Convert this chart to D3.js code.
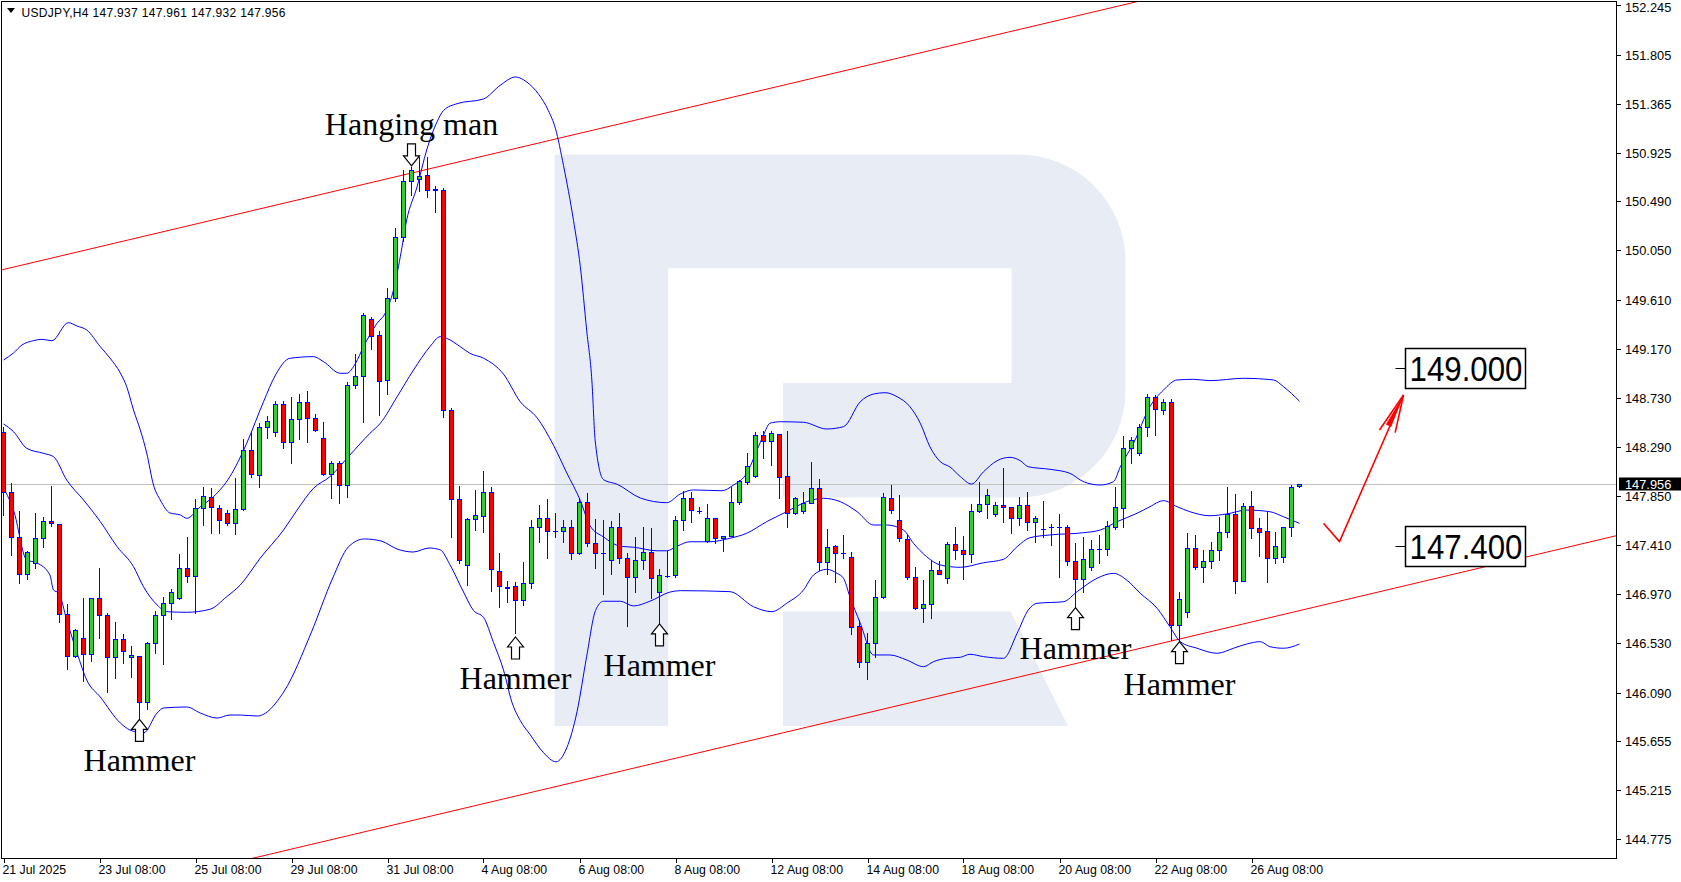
<!DOCTYPE html>
<html><head><meta charset="utf-8">
<script src="https://cdn.jsdelivr.net/npm/d3@7"></script>
<style>
html,body{margin:0;padding:0;background:#fff;}
svg{display:block;}
</style></head>
<body>
<svg id="chart" width="1681" height="882"></svg>
<script>
// ---------------- DATA ----------------
const symbolTitle = "USDJPY,H4";
const lastOHLC = ["147.937","147.961","147.932","147.956"];

const opens = [148.427,147.884,147.481,147.150,147.248,147.472,147.627,147.597,146.794,146.415,
146.576,146.436,146.935,146.782,146.406,146.567,146.406,146.415,146.008,146.531,
146.782,146.890,146.935,147.203,147.132,147.741,147.839,147.741,147.696,147.606,
147.732,148.263,148.036,148.472,148.422,148.672,148.332,148.538,148.690,148.547,
148.373,148.045,148.144,147.947,148.842,148.926,149.436,149.290,148.887,149.622,
150.173,150.670,150.690,150.723,150.600,150.589,148.621,147.820,147.237,147.648,
147.676,147.889,147.183,147.031,147.044,146.920,147.072,147.573,147.656,147.537,
147.537,147.573,147.340,147.800,147.433,147.340,147.278,147.573,147.298,147.125,
147.278,147.352,146.991,147.134,147.147,147.636,147.830,147.720,147.450,147.651,
147.472,147.493,147.794,147.976,148.027,148.394,148.341,148.404,148.027,147.696,
147.714,147.791,147.920,147.257,147.403,147.343,147.307,146.684,146.367,146.537,
146.944,147.833,147.639,147.463,147.123,146.845,146.881,147.185,147.114,147.421,
147.367,147.329,147.714,147.776,147.687,147.768,147.750,147.651,147.768,147.615,
147.558,147.570,147.570,147.570,147.266,147.105,147.212,147.373,147.373,147.570,
147.741,148.278,148.233,148.466,148.734,148.618,148.690,146.695,146.815,147.382,
147.218,147.271,147.364,147.526,147.687,147.092,147.759,147.562,147.535,147.293,
147.302,147.570,147.937];
const highs = [148.469,147.967,147.716,147.358,147.699,147.663,147.940,147.600,146.883,146.660,
146.937,146.937,147.209,146.800,146.722,146.612,146.507,146.418,146.540,146.821,
146.949,147.015,147.331,147.481,147.821,147.929,147.920,147.770,147.725,148.009,
148.359,148.433,148.502,148.567,148.702,148.702,148.741,148.761,148.791,148.583,
148.516,148.164,148.164,148.872,149.120,149.487,149.451,149.329,149.711,150.249,
150.771,150.800,150.885,150.890,150.627,150.612,148.637,147.943,147.654,147.902,
148.078,147.935,147.340,147.093,147.081,147.257,147.636,147.770,147.824,147.699,
147.636,147.636,147.833,147.881,147.648,147.636,147.627,147.699,147.340,147.484,
147.573,147.564,147.197,147.358,147.668,147.896,147.889,147.750,147.779,147.655,
147.493,147.934,147.990,148.233,148.424,148.430,148.430,148.410,148.430,147.845,
147.887,148.155,148.003,147.553,147.409,147.502,147.352,146.740,146.621,147.098,
147.875,147.949,147.860,147.502,147.218,147.098,147.269,147.272,147.436,147.576,
147.495,147.776,147.974,147.914,147.797,148.099,147.756,147.839,147.887,147.674,
147.806,147.600,147.687,147.588,147.430,147.486,147.454,147.502,147.624,147.929,
148.391,148.383,148.493,148.761,148.752,148.717,148.717,146.994,147.517,147.502,
147.367,147.436,147.665,147.934,147.869,147.791,147.896,147.651,147.710,147.526,
147.571,147.949,147.961];
const lows = [147.681,147.322,147.069,147.105,147.203,147.397,147.585,146.725,146.299,146.409,
146.191,146.376,146.582,146.098,146.223,146.358,146.232,145.862,145.946,146.442,
146.343,146.746,146.930,147.083,146.800,147.588,147.517,147.517,147.588,147.508,
147.725,148.018,147.929,148.373,148.392,148.278,148.144,148.361,148.337,148.433,
148.040,147.830,147.791,147.845,148.815,148.511,149.164,148.574,148.762,149.600,
150.138,150.547,150.580,150.531,150.397,148.556,147.484,147.251,147.054,147.546,
147.524,147.003,146.858,146.901,146.620,146.875,147.031,147.442,147.298,147.484,
147.442,147.287,147.331,147.403,147.206,146.969,147.154,147.251,146.682,146.991,
147.197,146.941,146.713,147.125,147.122,147.546,147.621,147.700,147.441,147.427,
147.356,147.490,147.779,147.958,148.024,148.194,148.128,147.830,147.570,147.690,
147.696,147.785,147.188,147.152,147.078,147.293,146.615,146.322,146.209,146.411,
146.940,147.701,147.450,147.108,146.840,146.725,146.755,147.150,147.069,147.287,
147.105,147.262,147.710,147.651,147.674,147.615,147.517,147.591,147.546,147.436,
147.486,147.412,147.128,147.230,146.859,146.994,147.188,147.248,147.322,147.553,
147.570,148.144,148.218,148.391,148.395,148.582,146.561,146.561,146.770,147.197,
147.083,147.209,147.278,147.486,146.979,147.090,147.477,147.316,147.083,147.253,
147.262,147.495,147.932];
const closes = [147.884,147.481,147.150,147.353,147.472,147.627,147.606,146.794,146.415,146.648,
146.436,146.935,146.782,146.406,146.567,146.463,146.424,146.008,146.534,146.785,
146.890,146.988,147.203,147.132,147.741,147.848,147.750,147.633,147.606,147.732,
148.263,148.045,148.472,148.522,148.672,148.332,148.538,148.690,148.547,148.442,
148.045,148.144,147.947,148.842,148.926,149.469,149.286,148.878,149.622,150.173,
150.670,150.768,150.714,150.591,150.594,148.621,147.820,147.278,147.648,147.684,
147.889,147.195,147.044,147.035,146.920,147.072,147.573,147.656,147.537,147.535,
147.573,147.340,147.800,147.433,147.340,147.338,147.573,147.298,147.125,147.278,
147.352,147.113,147.147,147.130,147.636,147.833,147.725,147.720,147.651,147.472,
147.493,147.794,147.985,148.117,148.394,148.341,148.415,148.018,147.696,147.830,
147.791,147.920,147.257,147.391,147.338,147.341,146.675,146.367,146.537,146.944,
147.839,147.725,147.472,147.123,146.845,146.881,147.185,147.152,147.421,147.367,
147.329,147.714,147.776,147.857,147.768,147.750,147.651,147.768,147.615,147.651,
147.558,147.570,147.570,147.266,147.105,147.284,147.373,147.373,147.579,147.750,
148.278,148.349,148.466,148.734,148.627,148.690,146.695,146.926,147.382,147.218,
147.271,147.364,147.526,147.687,147.092,147.759,147.562,147.526,147.293,147.400,
147.570,147.929,147.956];

// Bollinger bands: [bar index, price]
const upperBand = [[0,149.069],[1.25,149.132],[2.3,149.203],[3.75,149.242],[4.8,149.254],[6.05,149.242],[8.1,149.403],[9.2,149.373],[10.4,149.338],[12.1,149.188],[13.3,149.087],[14.6,148.953],[15.4,148.830],[16.25,148.621],[17.1,148.442],[17.9,148.236],[18.75,147.949],[19.6,147.815],[20.8,147.699],[22.1,147.681],[22.9,147.651],[24.6,147.755],[26.25,147.845],[28.3,148.024],[30.4,148.323],[32.5,148.695],[34,148.935],[35.8,149.084],[38.75,149.099],[40,149.054],[42.1,148.950],[42.9,148.950],[44,149.039],[45,149.188],[46.7,149.398],[47.7,149.487],[48.75,149.696],[49.6,149.994],[50.4,150.323],[51.7,150.621],[52.9,150.950],[54.2,151.203],[55,151.304],[56.7,151.365],[60,151.407],[62.1,151.530],[64,151.604],[65.4,151.559],[66.9,151.448],[68.1,151.304],[69,151.140],[70,150.811],[71.25,150.318],[72.1,149.907],[72.9,149.332],[73.55,148.881],[73.96,148.346],[75,147.997],[76.7,147.956],[79.6,147.833],[82.9,147.791],[84.6,147.869],[86.25,147.905],[89.8,147.898],[91.25,147.949],[92.9,148.054],[94.2,148.263],[95,148.397],[95.8,148.502],[97.1,148.516],[100,148.511],[102.9,148.451],[105,148.472],[107.1,148.695],[108.75,148.764],[110.2,148.776],[111.7,148.740],[113.3,148.651],[114.6,148.502],[115.8,148.292],[117.1,148.158],[118.3,148.111],[119.6,148.025],[121,147.958],[122.5,148.068],[124.2,148.167],[125.8,148.197],[127.1,148.167],[128.1,148.113],[130.8,148.090],[133.3,148.054],[135,147.979],[137.1,147.949],[138.75,147.979],[139.6,148.113],[141.25,148.323],[143.3,148.651],[145,148.800],[146.7,148.890],[148.75,148.896],[150.8,148.884],[155,148.905],[158.75,148.890],[160,148.830],[162,148.700]];
const middleBand = [[0,148.496],[1.25,148.427],[2.9,148.278],[5,148.233],[6.25,148.203],[7.9,147.994],[10,147.815],[12.1,147.621],[14.2,147.397],[16.25,147.218],[17.5,147.038],[19.2,146.875],[20.4,146.815],[22.9,146.809],[25.8,146.836],[27.9,146.949],[29.6,147.054],[32.1,147.295],[35,147.546],[36.7,147.725],[38.75,147.920],[40.8,148.024],[43.3,148.218],[45.8,148.412],[47.1,148.502],[49.2,148.740],[51.25,148.979],[53.3,149.188],[54.6,149.278],[55.4,149.263],[57.1,149.188],[58.3,149.129],[60,149.085],[62.5,148.942],[64.6,148.695],[66.7,148.551],[68.75,148.305],[70.4,148.059],[72.1,147.811],[73.3,147.586],[75,147.484],[77.1,147.401],[78.75,147.392],[81.7,147.360],[82.9,147.360],[84.2,147.401],[85.8,147.441],[88.3,147.441],[90.8,147.472],[92.9,147.517],[95.4,147.621],[97.9,147.710],[100.4,147.800],[102.5,147.830],[104.6,147.800],[106.7,147.710],[108.75,147.591],[110.4,147.591],[112.5,147.546],[113.75,147.427],[115.4,147.307],[117.1,147.233],[119.6,147.212],[122.5,147.253],[125,147.284],[126.7,147.397],[128.3,147.477],[130.8,147.502],[135,147.522],[137.1,147.546],[139.2,147.621],[141.7,147.696],[143.3,147.755],[145,147.809],[146.7,147.755],[148.3,147.710],[150.8,147.674],[152.9,147.690],[155.4,147.725],[158.3,147.710],[160,147.665],[162,147.606]];
const lowerBand = [[0,147.922],[1.25,147.725],[2.9,147.278],[4.2,147.251],[5.8,147.143],[6.25,147.009],[6.9,146.982],[7.9,146.740],[9.2,146.445],[10.4,146.203],[12.1,146.050],[14.6,145.818],[15.8,145.755],[17.5,145.728],[19.2,145.907],[20,145.952],[22.9,145.961],[24.6,145.907],[26.7,145.862],[28.3,145.889],[29.6,145.889],[31.7,145.880],[35.1,146.104],[38.5,146.633],[41.1,147.107],[43.1,147.394],[45.1,147.466],[47.2,147.448],[49.2,147.376],[51.2,147.349],[53.2,147.385],[54.6,147.368],[55.8,147.236],[57.5,146.991],[58.75,146.825],[60,146.764],[61.25,146.538],[62.5,146.292],[63.55,146.004],[64.6,145.839],[65.8,145.716],[67.5,145.552],[69.05,145.470],[70.4,145.594],[71.7,145.922],[72.9,146.415],[74,146.825],[75,146.908],[77.1,146.908],[78.75,146.866],[80.8,146.908],[83.3,146.990],[84.6,147.003],[90.8,146.994],[93.75,146.859],[96.05,146.815],[97.9,146.890],[100,147.009],[101.25,147.143],[102.9,147.194],[104.2,147.158],[105,147.114],[105.8,146.949],[107.1,146.711],[108.75,146.427],[110.8,146.427],[112.9,146.382],[115,146.322],[116.25,146.367],[117.9,146.397],[119.6,146.406],[120.8,146.433],[122.5,146.412],[125,146.397],[126.7,146.621],[128.1,146.830],[129.2,146.890],[132.5,146.904],[134.2,146.994],[136.7,147.114],[138.75,147.158],[140.4,147.098],[142.1,146.979],[144.2,146.845],[145.8,146.680],[147.1,146.546],[149.2,146.487],[151.7,146.442],[153.75,146.487],[155.4,146.525],[157.1,146.546],[158.3,146.501],[160,146.487],[162,146.525]];

const priceTicks = [152.245,151.805,151.365,150.925,150.490,150.050,149.610,149.170,148.730,148.290,147.850,147.410,146.970,146.530,146.090,145.655,145.215,144.775];
const priceTickLabels = ["152.245","151.805","151.365","150.925","150.490","150.050","149.610","149.170","148.730","148.290","147.850","147.410","146.970","146.530","146.090","145.655","145.215","144.775"];
const timeLabelBars = [0,12,24,36,48,60,72,84,96,108,120,132,144,156];
const timeLabels = ["21 Jul 2025","23 Jul 08:00","25 Jul 08:00","29 Jul 08:00","31 Jul 08:00","4 Aug 08:00","6 Aug 08:00","8 Aug 08:00","12 Aug 08:00","14 Aug 08:00","18 Aug 08:00","20 Aug 08:00","22 Aug 08:00","26 Aug 08:00"];

const currentPrice = 147.956;

// Channel lines: two anchor points each [bar, price]
const channelTop = [[0,149.880],[140,152.250]];
const channelBottom = [[100,145.773],[160,146.790]];

// Pattern annotations
const patternNames = ["Hanging man","Hammer","Hammer","Hammer","Hammer","Hammer"];
const patternBars = [51,17,64,82,134,147];
const patternTextPrice = [151.084,145.391,146.122,146.239,146.391,146.069];
const patternArrowPrice = [150.807,145.851,146.588,146.705,146.850,146.546];
const patternArrowDir = ["down","up","up","up","up","up"];

// Forecast arrow [bar, price]
const forecastPath = [[165,147.606],[167,147.442],[175,148.755]];
const forecastHead = [[172,148.442],[173.96,148.418]];

// Target labels
const targetPrices = [149.000,147.400];
const targetTexts = ["149.000","147.400"];
const targetBar = 174;

// ---------------- CHART ----------------
const svg = d3.select("#chart");
const W = 1681, H = 882;
const plotL = 2, plotT = 2, plotR = 1616, plotB = 858;

const x = d3.scaleLinear().domain([0, 200]).range([3.5, 1603.5]);
const y = d3.scaleLinear().domain([144.775, 152.245]).range([839.4, 5.4]);

svg.append("rect").attr("width", W).attr("height", H).attr("fill", "#fff");

svg.append("defs").append("clipPath").attr("id","plotclip")
  .append("rect").attr("x", plotL).attr("y", plotT).attr("width", plotR-plotL).attr("height", plotB-plotT);

const plot = svg.append("g").attr("clip-path","url(#plotclip)");

// watermark logo
const wm = plot.append("g").attr("fill","#e8edf5");
wm.append("path").attr("d",
 "M554.5,154.5 H1018 A107,107 0 0 1 1125.5,261.5 V390.6 A107,107 0 0 1 1018.5,497.6 H783 V383 H1011.5 V268.3 H668.2 V726 H554.5 Z");
wm.append("path").attr("d","M783,611.4 H1010.7 L1068,726 H783 Z");

// current price line
plot.append("line")
  .attr("x1", plotL).attr("x2", plotR)
  .attr("y1", Math.round(y(currentPrice))+0.5).attr("y2", Math.round(y(currentPrice))+0.5)
  .attr("stroke","#c0c0c0").attr("stroke-width",1);

// channel lines (extended rays)
function extLine(pts){
  const [a,b] = pts;
  const s = (b[1]-a[1])/(b[0]-a[0]);
  const i0 = -5, i1 = 215;
  return [[i0, a[1]+s*(i0-a[0])],[i1, a[1]+s*(i1-a[0])]];
}
[channelTop, channelBottom].forEach(p => {
  const e = extLine(p);
  plot.append("line")
    .attr("x1", x(e[0][0])).attr("y1", y(e[0][1]))
    .attr("x2", x(e[1][0])).attr("y2", y(e[1][1]))
    .attr("stroke","#ff0000").attr("stroke-width",1);
});

// bands
const bandLine = d3.line().x(d=>x(d[0])).y(d=>y(d[1])).curve(d3.curveMonotoneX);
[upperBand, middleBand, lowerBand].forEach(b => {
  plot.append("path").attr("d", bandLine(b))
    .attr("fill","none").attr("stroke","#0000ff").attr("stroke-width",1);
});

// candles
const cg = plot.append("g");
opens.forEach((o,i) => {
  const c = closes[i], h = highs[i], l = lows[i];
  const cx = x(i);
  cg.append("line").attr("x1",cx).attr("x2",cx)
    .attr("y1", Math.round(y(h))).attr("y2", Math.round(y(l))+1)
    .attr("stroke","#0000ff").attr("stroke-width",1);
  const yt = Math.round(y(Math.max(o,c)))+0.5;
  const yb = Math.round(y(Math.min(o,c)))+0.5;
  if (yb - yt < 1) {
    cg.append("line").attr("x1",cx-2.5).attr("x2",cx+2.5)
      .attr("y1",yt).attr("y2",yt).attr("stroke","#0000ff").attr("stroke-width",1);
  } else {
    cg.append("rect").attr("x",cx-2).attr("y",yt).attr("width",4).attr("height",yb-yt)
      .attr("fill", c>o ? "#32cd32" : "#ff0000")
      .attr("stroke","#0000ff").attr("stroke-width",1);
  }
});

// pattern arrows + labels
const ag = plot.append("g");
patternBars.forEach((b,k) => {
  const cx = x(b);
  const ty = y(patternArrowPrice[k]);
  const up = patternArrowDir[k] === "up";
  const s = up ? 1 : -1;
  const pts = [[0,0],[8,10*s],[4,10*s],[4,22*s],[-4,22*s],[-4,10*s],[-8,10*s]];
  ag.append("path")
    .attr("d", "M" + pts.map(p => (cx+p[0]).toFixed(1)+","+(ty+p[1]).toFixed(1)).join("L") + "Z")
    .attr("fill","#fff").attr("stroke","#000").attr("stroke-width",1.2).attr("stroke-linejoin","miter");
  ag.append("text").attr("x",cx).attr("y",y(patternTextPrice[k]))
    .attr("text-anchor","middle")
    .attr("font-family","'Liberation Serif','Times New Roman',serif")
    .attr("font-size",32).attr("fill","#000")
    .text(patternNames[k]);
});

// forecast arrow
const fl = d3.line().x(d=>x(d[0])).y(d=>y(d[1]));
plot.append("path").attr("d", fl(forecastPath)).attr("fill","none")
  .attr("stroke","#ff0000").attr("stroke-width",1.6).attr("stroke-linejoin","round");
const tip = forecastPath[forecastPath.length-1];
forecastHead.forEach(hp => {
  plot.append("line").attr("x1",x(tip[0])).attr("y1",y(tip[1]))
    .attr("x2",x(hp[0])).attr("y2",y(hp[1]))
    .attr("stroke","#ff0000").attr("stroke-width",1.6);
});
plot.append("path").attr("d", "M"+x(tip[0])+","+y(tip[1])+"L"+x(forecastHead[0][0]+0.8)+","+y(forecastHead[0][1]+0.05)+"L"+x(forecastHead[1][0]-0.5)+","+y(forecastHead[1][1]+0.05)+"Z")
  .attr("fill","#ff0000");

// target boxes
targetPrices.forEach((p,k) => {
  const yy = Math.round(y(p))+0.5;
  const x0 = x(targetBar);
  plot.append("line").attr("x1",x0).attr("x2",x0+10).attr("y1",yy).attr("y2",yy)
    .attr("stroke","#000").attr("stroke-width",1);
  plot.append("rect").attr("x",x0+10).attr("y",yy-20).attr("width",120).attr("height",40)
    .attr("fill","#fff").attr("stroke","#000").attr("stroke-width",1.5);
  plot.append("text").attr("x",x0+14).attr("y",yy+12.5)
    .attr("font-family","'Liberation Sans',Arial,sans-serif")
    .attr("font-size",35).attr("fill","#000")
    .attr("textLength",113).attr("lengthAdjust","spacingAndGlyphs")
    .text(targetTexts[k]);
});

// header
svg.append("path").attr("d","M7,8 L15,8 L11,13 Z").attr("fill","#000");
svg.append("text").attr("x",21.5).attr("y",16.5)
  .attr("font-family","'Liberation Sans',Arial,sans-serif").attr("font-size",12).attr("fill","#000")
  .attr("textLength",264).attr("lengthAdjust","spacing")
  .text(symbolTitle + "  " + lastOHLC.join(" "));

// frame
svg.append("rect").attr("x",plotL-0.5).attr("y",plotT-0.5)
  .attr("width",plotR-plotL+1).attr("height",plotB-plotT+1)
  .attr("fill","none").attr("stroke","#000").attr("stroke-width",1);

// price axis
const pa = svg.append("g");
priceTicks.forEach((p,k) => {
  const yy = Math.round(y(p))+0.5;
  pa.append("line").attr("x1",plotR+0.5).attr("x2",plotR+5).attr("y1",yy).attr("y2",yy)
    .attr("stroke","#000");
  pa.append("text").attr("x",1625).attr("y",Math.max(yy+4.5, 12))
    .attr("font-family","'Liberation Sans',Arial,sans-serif").attr("font-size",12.8).attr("fill","#000")
    .text(priceTickLabels[k]);
});
// current price tag
const cy = Math.round(y(currentPrice))+0.5;
pa.append("rect").attr("x",1619).attr("y",cy-7).attr("width",62).attr("height",13).attr("fill","#000");
pa.append("text").attr("x",1625).attr("y",cy+4.5)
  .attr("font-family","'Liberation Sans',Arial,sans-serif").attr("font-size",12.8).attr("fill","#fff")
  .text(currentPrice.toFixed(3));

// time axis
const ta = svg.append("g");
timeLabelBars.forEach((b,k) => {
  const xx = Math.round(x(b))+0.5;
  ta.append("line").attr("x1",xx).attr("x2",xx).attr("y1",plotB).attr("y2",plotB+5).attr("stroke","#000");
  ta.append("text").attr("x",Math.max(xx-2, 2)).attr("y",874)
    .attr("font-family","'Liberation Sans',Arial,sans-serif").attr("font-size",12.3).attr("fill","#000")
    .text(timeLabels[k]);
});
</script>
</body></html>
